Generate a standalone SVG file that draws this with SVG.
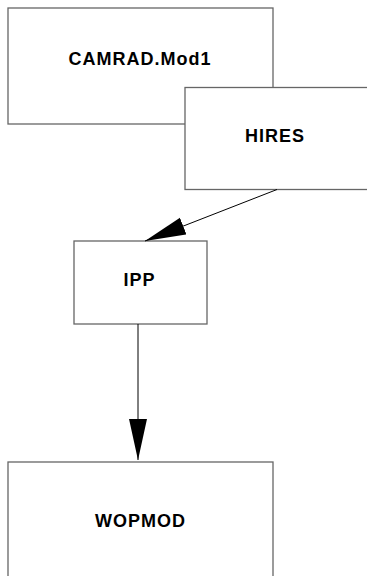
<svg xmlns="http://www.w3.org/2000/svg" width="367" height="576" viewBox="0 0 367 576">
<style>
.box{fill:#fff;stroke:#666;stroke-width:1.3}
.lbl{font-family:"Liberation Sans",Arial,sans-serif;font-weight:bold;font-size:18px;letter-spacing:1px;fill:#000;text-anchor:middle}
.edge{stroke:#000;stroke-width:1;fill:none}
</style>
<defs>
<marker id="ah" markerUnits="userSpaceOnUse" markerWidth="42" markerHeight="20" refX="41" refY="9" orient="auto">
<path d="M0,0 L41,9 L0,18 Z" fill="#000"/>
</marker>
</defs>
<rect width="367" height="576" fill="#fff"/>
<g id="camrad">
<rect class="box" x="8" y="8" width="265" height="116"/>
<text class="lbl" x="140" y="65">CAMRAD.Mod1</text>
</g>
<g id="hires">
<rect class="box" x="185" y="87.5" width="190" height="102"/>
<text class="lbl" x="275" y="142">HIRES</text>
</g>
<g id="ipp">
<rect class="box" x="74" y="241" width="133" height="83"/>
<text class="lbl" x="139.5" y="286">IPP</text>
</g>
<g id="wopmod">
<rect class="box" x="8" y="462" width="265" height="130"/>
<text class="lbl" x="140.5" y="527">WOPMOD</text>
</g>
<g id="connectors">
<line class="edge" x1="277" y1="189.5" x2="145" y2="241" marker-end="url(#ah)"/>
<line class="edge" x1="138" y1="324" x2="138" y2="460" marker-end="url(#ah)"/>
</g>
</svg>
